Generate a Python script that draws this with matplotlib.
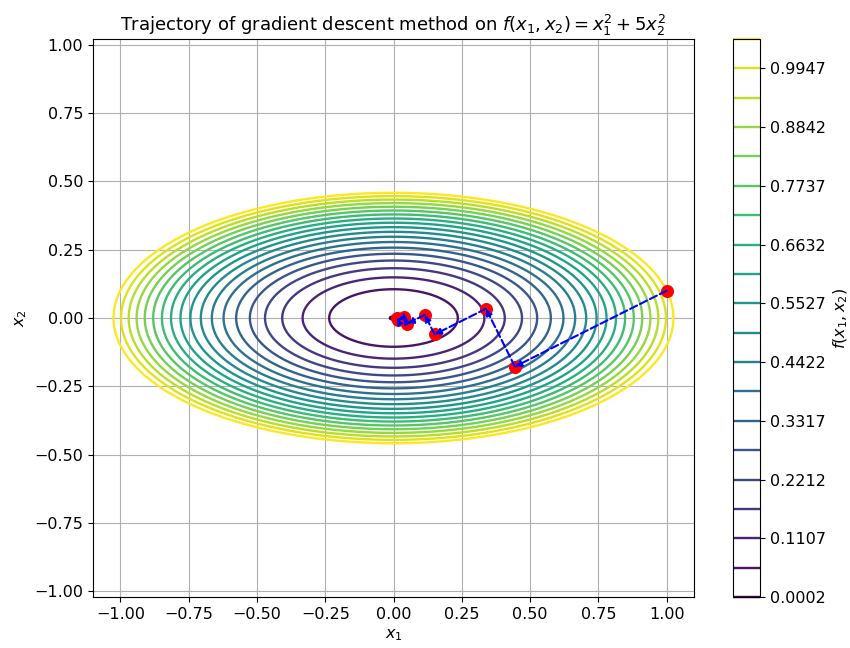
import numpy as np
import matplotlib
matplotlib.use("Agg")
import matplotlib.pyplot as plt

# contour levels
levels = [0.0002, 0.05545, 0.1107, 0.16595, 0.2212, 0.27645, 0.3317, 0.38695,
          0.4422, 0.49745, 0.5527, 0.60795, 0.6632, 0.71845, 0.7737, 0.82895,
          0.8842, 0.93945, 0.9947, 1.04995]

# gradient descent iterates (x1, x2)
traj_x1 = [1.0, 0.4444, 0.3386, 0.1505, 0.1147, 0.0510, 0.0388, 0.0173, 0.0131]
traj_x2 = [0.1, -0.1778, 0.0339, -0.0602, 0.0115, -0.0204, 0.0039, -0.0069, 0.0013]

plt.rcParams["font.size"] = 11.5

fig = plt.figure(figsize=(8.5, 6.48), dpi=100)
ax = fig.add_axes([93 / 850, 51 / 648, 601 / 850, 558 / 648])
cax = fig.add_axes([733 / 850, 51 / 648, 27 / 850, 558 / 648])

x1 = np.linspace(-1.1, 1.1, 400)
x2 = np.linspace(-1.0, 1.0, 400)
X1, X2 = np.meshgrid(x1, x2)
Z = X1 ** 2 + 5 * X2 ** 2

cs = ax.contour(X1, X2, Z, levels=levels, cmap="viridis", linewidths=1.7)
cb = fig.colorbar(cs, cax=cax)
cb.set_label("$f(x_1, x_2)$")

ax.scatter(traj_x1, traj_x2, color="red", s=70, zorder=3)
for i in range(len(traj_x1) - 1):
    ax.annotate("", xy=(traj_x1[i + 1], traj_x2[i + 1]), xytext=(traj_x1[i], traj_x2[i]),
                arrowprops=dict(arrowstyle="-|>", color="blue", linestyle="--", lw=1.5,
                                mutation_scale=9, shrinkA=0, shrinkB=0),
                zorder=4)

ax.set_xlim(-1.1, 1.1)
ax.set_ylim(-1.0, 1.0)
ax.set_aspect("equal", adjustable="datalim")
ax.set_xlabel("$x_1$")
ax.set_ylabel("$x_2$")
ax.set_title("Trajectory of gradient descent method on $f(x_1, x_2) = x_1^2 + 5x_2^2$", fontsize=13)
ax.grid(True)

fig.savefig("out.png", dpi=100)
